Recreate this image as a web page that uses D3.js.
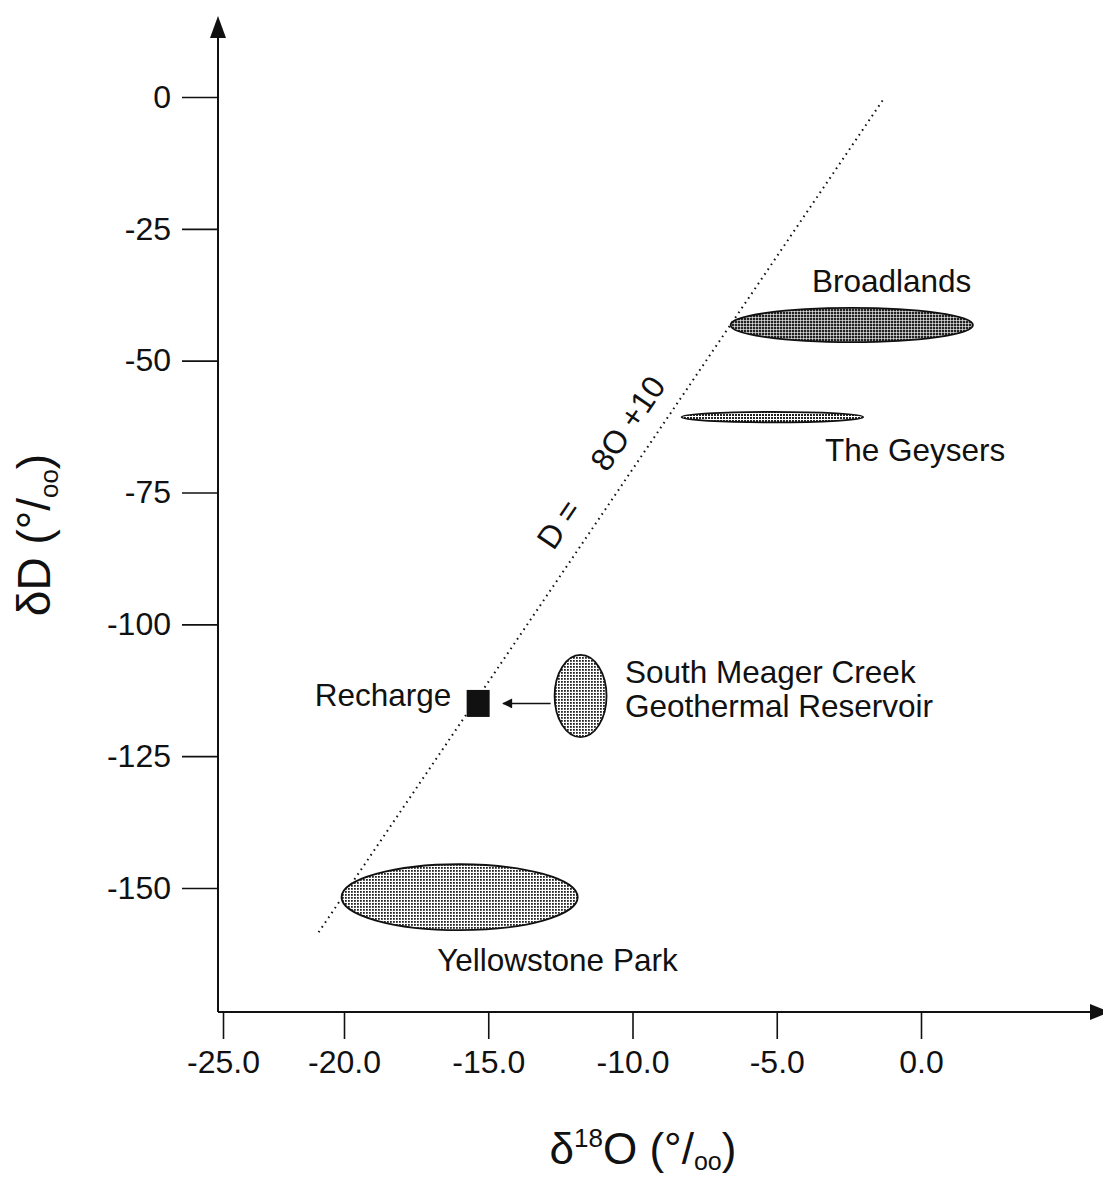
<!DOCTYPE html>
<html>
<head>
<meta charset="utf-8">
<script src="https://cdn.jsdelivr.net/npm/d3@7"></script>
<style>
  body { margin: 0; background: #fff; }
  svg { display: block; font-family: "Liberation Sans", Arial, sans-serif; }
  .tick text { font-size: 32px; fill: #111; }
  .tick line { stroke: #111; stroke-width: 1.6px; }
</style>
</head>
<body>
<div id="chart"></div>
<script>
// tick values
const xTicks = [-25, -20, -15, -10, -5, 0];
const yTicks = [0, -25, -50, -75, -100, -125, -150];

// geothermal fields: d18O range and dD range (per mil)
const fieldNames = ["Broadlands", "The Geysers", "South Meager Creek", "Yellowstone Park"];
const fieldO = [[-6.6, 1.8], [-8.3, -2.0], [-12.7, -10.9], [-20.1, -11.9]];
const fieldD = [[-46.5, -40.0], [-61.7, -59.7], [-121.4, -105.8], [-158.0, -145.5]];
const fieldShade = ["dark", "mid", "light", "light"];

// recharge water
const rechargeO = -15.35;
const rechargeD = -115.0;

// meteoric water line D = 8 O + 10
const mwlSlope = 8;
const mwlIntercept = 10;
const mwlO = [-21.05, -1.25];

// label anchors in data units [d18O, dD]
const labelText = ["Broadlands", "The Geysers", "South Meager Creek", "Geothermal Reservoir", "Yellowstone Park", "Recharge"];
const labelAt = [[-3.78, -37.0], [-3.33, -69.0], [-10.26, -111.1], [-10.26, -117.6], [-16.77, -165.7], [-16.28, -115.5]];

(function () {
    const width = 1103, height = 1182;
    const originX = 218, originY = 1012;

    const svg = d3.select("#chart").append("svg")
        .attr("width", width)
        .attr("height", height);

    // the -25 tick sits at the axis corner, closer than the others
    const x = d3.scaleLinear().domain([-25, -20, 0]).range([223, 344, 921]);
    const y = d3.scaleLinear().domain([0, -150]).range([97, 888]);

    const defs = svg.append("defs");
    // halftone-like fills
    const shades = { light: 1.8, mid: 2.0, dark: 2.4 };
    Object.entries(shades).forEach(([k, s]) => {
        const p = defs.append("pattern")
            .attr("id", "dots-" + k)
            .attr("patternUnits", "userSpaceOnUse")
            .attr("width", 3).attr("height", 3);
        p.append("rect").attr("width", 3).attr("height", 3).attr("fill", "#fff");
        p.append("rect").attr("width", s).attr("height", s).attr("fill", "#222");
    });
    defs.append("marker")
        .attr("id", "head")
        .attr("viewBox", "0 0 10 10")
        .attr("refX", 9).attr("refY", 5)
        .attr("markerWidth", 12).attr("markerHeight", 10)
        .attr("markerUnits", "userSpaceOnUse")
        .attr("orient", "auto")
        .append("path")
        .attr("d", "M0,0L10,5L0,10Z")
        .attr("fill", "#111");

    // axes lines with arrow heads
    svg.append("line")
        .attr("x1", originX).attr("y1", originY)
        .attr("x2", originX).attr("y2", 30)
        .attr("stroke", "#111").attr("stroke-width", 2);
    svg.append("path")
        .attr("d", `M${originX - 8},${38}L${originX},${16}L${originX + 8},${38}Z`)
        .attr("fill", "#111");
    svg.append("line")
        .attr("x1", originX).attr("y1", originY)
        .attr("x2", 1095).attr("y2", originY)
        .attr("stroke", "#111").attr("stroke-width", 2);
    svg.append("path")
        .attr("d", `M${1090},${originY - 8}L${1110},${originY}L${1090},${originY + 8}Z`)
        .attr("fill", "#111");

    const xAxis = svg.append("g")
        .attr("transform", `translate(0,${originY})`)
        .call(d3.axisBottom(x).tickValues(xTicks).tickSize(27).tickPadding(11)
            .tickFormat(d => d.toFixed(1)));
    xAxis.select(".domain").remove();
    xAxis.selectAll("text").attr("font-family", null).attr("font-size", null);

    const yAxis = svg.append("g")
        .attr("transform", `translate(${originX},0)`)
        .call(d3.axisLeft(y).tickValues(yTicks).tickSize(36).tickPadding(11)
            .tickFormat(d => String(d)));
    yAxis.select(".domain").remove();
    yAxis.selectAll("text").attr("font-family", null).attr("font-size", null);

    // meteoric water line
    svg.append("line")
        .attr("x1", x(mwlO[0])).attr("y1", y(mwlSlope * mwlO[0] + mwlIntercept))
        .attr("x2", x(mwlO[1])).attr("y2", y(mwlSlope * mwlO[1] + mwlIntercept))
        .attr("stroke", "#111").attr("stroke-width", 2)
        .attr("stroke-dasharray", "1.6,4.2");

    // rotated equation label along the line
    const p1 = [x(-13), y(mwlSlope * -13 + mwlIntercept)];
    const p2 = [x(-8), y(mwlSlope * -8 + mwlIntercept)];
    const angle = Math.atan2(p2[1] - p1[1], p2[0] - p1[0]) * 180 / Math.PI;
    const lo = -12.25;
    const eq = svg.append("text")
        .attr("transform", `translate(${x(lo)},${y(mwlSlope * lo + mwlIntercept)}) rotate(${angle})`)
        .attr("x", 0).attr("y", -17)
        .attr("font-size", 32).attr("fill", "#111");
    eq.append("tspan").text("D =");
    eq.append("tspan").attr("dx", 44).text("8O +10");

    // field ellipses
    svg.selectAll(".field")
        .data(fieldNames)
        .join("ellipse")
        .attr("class", "field")
        .attr("cx", (d, i) => (x(fieldO[i][0]) + x(fieldO[i][1])) / 2)
        .attr("cy", (d, i) => (y(fieldD[i][0]) + y(fieldD[i][1])) / 2)
        .attr("rx", (d, i) => (x(fieldO[i][1]) - x(fieldO[i][0])) / 2)
        .attr("ry", (d, i) => (y(fieldD[i][0]) - y(fieldD[i][1])) / 2)
        .attr("fill", (d, i) => `url(#dots-${fieldShade[i]})`)
        .attr("stroke", "#111")
        .attr("stroke-width", 1.8);

    // recharge box
    svg.append("rect")
        .attr("x", x(rechargeO) - 11.5).attr("y", y(rechargeD) - 13.5)
        .attr("width", 23).attr("height", 27)
        .attr("fill", "#111");

    // arrow from South Meager Creek to recharge
    const smc = 2;
    svg.append("line")
        .attr("x1", x(fieldO[smc][0]) - 4).attr("y1", y(rechargeD))
        .attr("x2", x(rechargeO) + 25).attr("y2", y(rechargeD))
        .attr("stroke", "#111").attr("stroke-width", 1.6)
        .attr("marker-end", "url(#head)");

    // labels
    svg.selectAll(".lbl")
        .data(labelText)
        .join("text")
        .attr("class", "lbl")
        .attr("x", (d, i) => x(labelAt[i][0]))
        .attr("y", (d, i) => y(labelAt[i][1]))
        .attr("text-anchor", d => d === "Recharge" ? "end" : "start")
        .attr("font-size", 31.5)
        .attr("fill", "#111")
        .text(d => d);

    // axis titles
    const yt = svg.append("text")
        .attr("transform", "translate(50,535) rotate(-90)")
        .attr("text-anchor", "middle")
        .attr("font-size", 46)
        .attr("fill", "#111");
    yt.append("tspan").text("δD (°/");
    yt.append("tspan").attr("font-size", 26).attr("dy", 8).text("oo");
    yt.append("tspan").attr("dy", -8).text(")");

    const xt = svg.append("text")
        .attr("x", 643).attr("y", 1164)
        .attr("text-anchor", "middle")
        .attr("font-size", 44)
        .attr("fill", "#111");
    xt.append("tspan").text("δ");
    xt.append("tspan").attr("font-size", 26).attr("dy", -17).text("18");
    xt.append("tspan").attr("dy", 17).text("O (°/");
    xt.append("tspan").attr("font-size", 25).attr("dy", 6).text("oo");
    xt.append("tspan").attr("dy", -6).text(")");
})();
</script>
</body>
</html>
